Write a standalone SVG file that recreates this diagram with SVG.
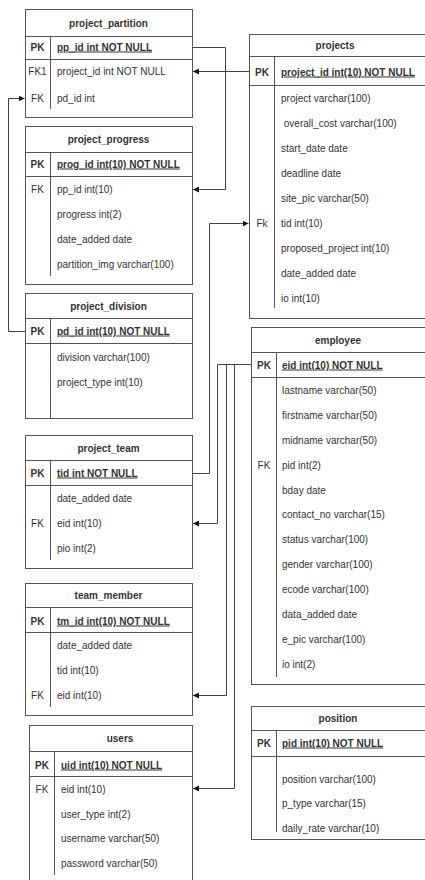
<svg xmlns="http://www.w3.org/2000/svg" width="425" height="880" viewBox="0 0 425 880">
<style>
.box{fill:#fff;stroke:#555;stroke-width:1}
.ln{fill:none;stroke:#555;stroke-width:1}
.cn{fill:none;stroke:#444;stroke-width:1}
text{font-family:"Liberation Sans",Arial,sans-serif;font-size:10px;fill:#333}
.h{font-weight:bold;text-anchor:middle}
.k{text-anchor:middle}
.kb{text-anchor:middle;font-weight:bold}
.pk{font-weight:bold;text-decoration:underline}
</style>
<defs>
<marker id="arr" markerWidth="7" markerHeight="7" refX="6" refY="3" orient="auto" markerUnits="userSpaceOnUse">
<path d="M0,0 L6,3 L0,6 z" fill="#111"/>
</marker>
</defs>
<rect width="425" height="880" fill="#fff"/>

<g id="connectors">
<path class="cn" d="M249,71.5 H193" marker-end="url(#arr)"/>
<path class="cn" d="M192.5,47.5 H225.5 V189.5 H193" marker-end="url(#arr)"/>
<path class="cn" d="M25,331.5 H8.5 V98.5 H24.5" marker-end="url(#arr)"/>
<path class="cn" d="M192.5,473.5 H209.5 V223.5 H248.5" marker-end="url(#arr)"/>
<path class="cn" d="M251,364.5 H217.5 V523.5 H193" marker-end="url(#arr)"/>
<path class="cn" d="M226.5,364.5 V695.5 H193" marker-end="url(#arr)"/>
<path class="cn" d="M234.5,364.5 V788.5 H193" marker-end="url(#arr)"/>
</g>

<g id="project_partition">
<rect class="box" x="25.5" y="9.5" width="167" height="108"/>
<path class="ln" d="M25.5,36.5 H192.5 M25.5,59.5 H192.5 M50.5,36.5 V109"/>
<text class="h" x="108.5" y="26.5">project_partition</text>
<text class="kb" x="37.5" y="50.5">PK</text>
<text class="pk" x="57" y="50.5">pp_id int NOT NULL</text>
<text class="k" x="37.5" y="74.5">FK1</text>
<text x="57" y="74.5">project_id int NOT NULL</text>
<text class="k" x="37.5" y="101.5">FK</text>
<text x="57" y="101.5">pd_id int</text>
</g>

<g id="project_progress">
<rect class="box" x="25.5" y="126.5" width="167" height="158"/>
<path class="ln" d="M25.5,152.5 H192.5 M25.5,176.5 H192.5 M50.5,152.5 V276"/>
<text class="h" x="108.5" y="143">project_progress</text>
<text class="kb" x="37.5" y="167.5">PK</text>
<text class="pk" x="57" y="167.5">prog_id int(10) NOT NULL</text>
<text class="k" x="37.5" y="193">FK</text>
<text x="57" y="193">pp_id int(10)</text>
<text x="57" y="217.5">progress int(2)</text>
<text x="57" y="242.5">date_added date</text>
<text x="57" y="267.5">partition_img varchar(100)</text>
</g>

<g id="project_division">
<rect class="box" x="25.5" y="293.5" width="167" height="125"/>
<path class="ln" d="M25.5,318.5 H192.5 M25.5,343.5 H192.5 M50.5,318.5 V418.5"/>
<text class="h" x="108.5" y="309.5">project_division</text>
<text class="kb" x="37.5" y="334.5">PK</text>
<text class="pk" x="57" y="334.5">pd_id int(10) NOT NULL</text>
<text x="57" y="360.5">division varchar(100)</text>
<text x="57" y="385.5">project_type int(10)</text>
</g>

<g id="project_team">
<rect class="box" x="25.5" y="435.5" width="167" height="133"/>
<path class="ln" d="M25.5,460.5 H192.5 M25.5,485.5 H192.5 M50.5,460.5 V560"/>
<text class="h" x="108.5" y="451.5">project_team</text>
<text class="kb" x="37.5" y="476.5">PK</text>
<text class="pk" x="57" y="476.5">tid int NOT NULL</text>
<text x="57" y="501.5">date_added date</text>
<text class="k" x="37.5" y="526.5">FK</text>
<text x="57" y="526.5">eid int(10)</text>
<text x="57" y="551.5">pio int(2)</text>
</g>

<g id="team_member">
<rect class="box" x="25.5" y="583.5" width="167" height="132"/>
<path class="ln" d="M25.5,607.5 H192.5 M25.5,632.5 H192.5 M50.5,607.5 V707"/>
<text class="h" x="108.5" y="598.5">team_member</text>
<text class="kb" x="37.5" y="624.5">PK</text>
<text class="pk" x="57" y="624.5">tm_id int(10) NOT NULL</text>
<text x="57" y="648.5">date_added date</text>
<text x="57" y="673.5">tid int(10)</text>
<text class="k" x="37.5" y="699">FK</text>
<text x="57" y="699">eid int(10)</text>
</g>

<g id="users">
<rect class="box" x="29.5" y="725.5" width="163" height="160"/>
<path class="ln" d="M29.5,751.5 H192.5 M29.5,776.5 H192.5 M54.5,751.5 V875"/>
<text class="h" x="120" y="742">users</text>
<text class="kb" x="42" y="768.5">PK</text>
<text class="pk" x="61" y="768.5">uid int(10) NOT NULL</text>
<text class="k" x="42" y="792.5">FK</text>
<text x="61" y="792.5">eid int(10)</text>
<text x="61" y="817.5">user_type int(2)</text>
<text x="61" y="841.5">username varchar(50)</text>
<text x="61" y="866.5">password varchar(50)</text>
</g>

<g id="projects">
<rect class="box" x="249.5" y="34.5" width="180" height="284"/>
<path class="ln" d="M249.5,56.5 H429.5 M249.5,85.5 H429.5 M274.5,56.5 V308"/>
<text class="h" x="335" y="48.5">projects</text>
<text class="kb" x="262" y="75.5">PK</text>
<text class="pk" x="281" y="75.5">project_id int(10) NOT NULL</text>
<text x="281" y="101.5">project varchar(100)</text>
<text x="281" y="126.5" xml:space="preserve"> overall_cost varchar(100)</text>
<text x="281" y="151.5">start_date date</text>
<text x="281" y="176.5">deadline date</text>
<text x="281" y="201.5">site_pic varchar(50)</text>
<text class="k" x="262" y="226.5">Fk</text>
<text x="281" y="226.5">tid int(10)</text>
<text x="281" y="251.5">proposed_project int(10)</text>
<text x="281" y="276.5">date_added date</text>
<text x="281" y="301.5">io int(10)</text>
</g>

<g id="employee">
<rect class="box" x="251.5" y="327.5" width="180" height="357"/>
<path class="ln" d="M251.5,352.5 H431.5 M251.5,377.5 H431.5 M276.5,352.5 V677"/>
<text class="h" x="338" y="343.5">employee</text>
<text class="kb" x="264" y="368.5">PK</text>
<text class="pk" x="282" y="368.5">eid int(10) NOT NULL</text>
<text x="282" y="393.5">lastname varchar(50)</text>
<text x="282" y="418.5">firstname varchar(50)</text>
<text x="282" y="443.5">midname varchar(50)</text>
<text class="k" x="264" y="468.5">FK</text>
<text x="282" y="468.5">pid int(2)</text>
<text x="282" y="493.5">bday date</text>
<text x="282" y="518">contact_no varchar(15)</text>
<text x="282" y="543">status varchar(100)</text>
<text x="282" y="567.5">gender varchar(100)</text>
<text x="282" y="593">ecode varchar(100)</text>
<text x="282" y="618">data_added date</text>
<text x="282" y="643">e_pic varchar(100)</text>
<text x="282" y="668">io int(2)</text>
</g>

<g id="position">
<rect class="box" x="251.5" y="706.5" width="180" height="133"/>
<path class="ln" d="M251.5,730.5 H431.5 M251.5,756.5 H431.5 M276.5,730.5 V832"/>
<text class="h" x="338" y="721.5">position</text>
<text class="kb" x="264" y="746.5">PK</text>
<text class="pk" x="282" y="746.5">pid int(10) NOT NULL</text>
<text x="282" y="782.5">position varchar(100)</text>
<text x="282" y="806.5">p_type varchar(15)</text>
<text x="282" y="831.5">daily_rate varchar(10)</text>
</g>
</svg>
